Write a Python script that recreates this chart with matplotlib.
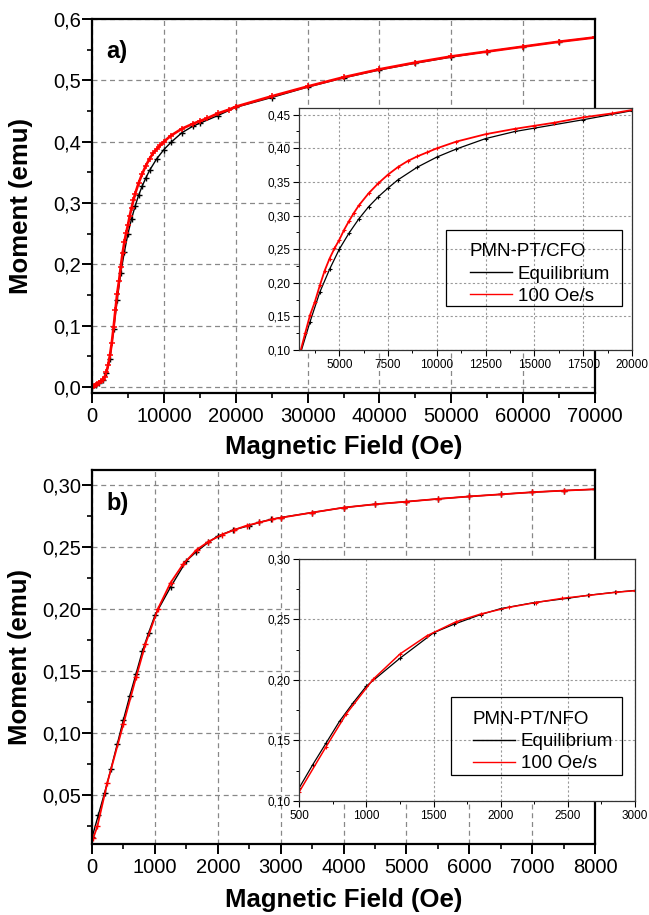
import numpy as np
import matplotlib.pyplot as plt
from matplotlib.patches import Rectangle
from matplotlib.ticker import MultipleLocator, FuncFormatter

plt.rcParams['font.family'] = ['Liberation Sans', 'DejaVu Sans']

# panel a) PMN-PT/CFO
cfo_field_rate = [0, 250, 500, 750, 1000, 1250, 1500, 1750, 2000, 2250, 2500, 2750,
                  3000, 3250, 3500, 3750, 4000, 4250, 4500, 4750, 5000, 5250, 5500,
                  5750, 6000, 6500, 7000, 7500, 8000, 8500, 9000, 9500, 10000, 11000,
                  12500, 14000, 15000, 16000, 17500, 19000, 20000, 25000, 30000, 35000,
                  40000, 45000, 50000, 55000, 60000, 65000, 70000]
cfo_moment_rate = [0.000, 0.001, 0.003, 0.005, 0.007, 0.009, 0.012, 0.016, 0.024, 0.036,
                   0.052, 0.072, 0.097, 0.125, 0.152, 0.172, 0.196, 0.218, 0.236, 0.251,
                   0.264, 0.279, 0.292, 0.304, 0.315, 0.333, 0.348, 0.361, 0.372, 0.381,
                   0.388, 0.394, 0.400, 0.410, 0.421, 0.429, 0.4335, 0.438, 0.446, 0.452,
                   0.457, 0.474, 0.490, 0.505, 0.518, 0.529, 0.539, 0.547, 0.555, 0.563,
                   0.570]
cfo_field_eq = [0, 500, 1000, 1500, 2000, 2500, 3000, 3500, 4000, 4500, 5000, 5500, 6000,
                6500, 7000, 7500, 8000, 9000, 10000, 11000, 12500, 14000, 15000, 17500,
                20000, 25000, 30000, 35000, 40000, 45000, 50000, 55000, 60000, 65000, 70000]
cfo_moment_eq = [0.000, 0.003, 0.007, 0.012, 0.022, 0.046, 0.094, 0.142, 0.186, 0.220,
                 0.250, 0.274, 0.295, 0.313, 0.328, 0.341, 0.353, 0.372, 0.387, 0.399,
                 0.4145, 0.425, 0.430, 0.4425, 0.456, 0.472, 0.489, 0.504, 0.517, 0.528,
                 0.538, 0.547, 0.555, 0.563, 0.570]

# panel b) PMN-PT/NFO
nfo_field_eq = [0, 100, 200, 300, 400, 500, 600, 700, 800, 900, 1000, 1250, 1500, 1650,
                1850, 2000, 2250, 2500, 2650, 2850, 3000, 3500, 4000, 4500, 5000, 5500,
                6000, 6500, 7000, 7500, 8000]
nfo_moment_eq = [0.016, 0.034, 0.052, 0.071, 0.091, 0.111, 0.130, 0.148, 0.166, 0.181,
                 0.195, 0.218, 0.239, 0.246, 0.254, 0.259, 0.264, 0.2675, 0.270, 0.2725,
                 0.274, 0.278, 0.282, 0.2847, 0.2868, 0.289, 0.291, 0.2927, 0.2944,
                 0.2957, 0.2968]
nfo_field_rate = [20, 85, 243, 500, 700, 850, 1050, 1250, 1450, 1665, 1850, 2060, 2260,
                  2460, 2660, 2860, 3000, 3500, 4000, 4500, 5000, 5500, 6000, 6500, 7000,
                  7500, 8000]
nfo_moment_rate = [0.0155, 0.025, 0.060, 0.1077, 0.145, 0.172, 0.2006, 0.2215, 0.2365,
                   0.248, 0.2545, 0.260, 0.264, 0.2675, 0.270, 0.2725, 0.2738, 0.278,
                   0.282, 0.2847, 0.2868, 0.289, 0.291, 0.2927, 0.2944, 0.2957, 0.2968]

series_labels = ['Equilibrium', '100 Oe/s']


def comma(dec):
    return FuncFormatter(lambda v, p: ('%.*f' % (dec, v)).replace('.', ','))


def style_main(ax):
    for s in ax.spines.values():
        s.set_linewidth(1.6)
    ax.tick_params(which='major', direction='out', length=7, width=1.4, labelsize=14.5,
                   top=False, right=False)
    ax.tick_params(axis='y', which='major', pad=1)
    ax.tick_params(axis='x', which='major', pad=3)
    ax.tick_params(which='minor', direction='out', length=3.8, width=1.2,
                   top=False, right=False)
    ax.grid(True, which='major', color='#888888', linestyle=(0, (4, 3)), linewidth=0.9)


def style_inset(ax):
    for s in ax.spines.values():
        s.set_linewidth(0.9)
        s.set_color('#333333')
    ax.tick_params(which='major', direction='out', length=4.5, width=0.8, labelsize=8.5,
                   top=False, right=False, pad=2)
    ax.tick_params(which='minor', direction='out', length=2.5, width=0.7,
                   top=False, right=False)
    ax.grid(True, which='major', color='#999999', linestyle=(0, (2, 2)), linewidth=0.8)
    ax.set_facecolor('white')


def boxed_legend(ax, title, frame, text_xy):
    leg = ax.legend(series_labels, title=title, loc='upper left', bbox_to_anchor=text_xy,
                    fontsize=13.5, title_fontsize=13.5, frameon=False, handlelength=2.25,
                    borderpad=0, borderaxespad=0, labelspacing=0.27, handletextpad=0.32,
                    alignment='left')
    for h in leg.get_lines():
        h.set_marker('')
        h.set_linewidth(1.0)
    x0, y0, x1, y1 = frame
    ax.add_patch(Rectangle((x0, y0), x1 - x0, y1 - y0, transform=ax.transAxes,
                           facecolor='none', edgecolor='black', lw=0.9, zorder=6))


fig = plt.figure(figsize=(6.49, 9.15), dpi=100)

# ---------------- panel a ----------------
axa = fig.add_axes([0.1418, 0.5705, 0.775, 0.4087])
axa.plot(cfo_field_eq, cfo_moment_eq, color='black', lw=1.0, marker='+', ms=4, mew=1.0)
axa.plot(cfo_field_rate, cfo_moment_rate, color='red', lw=1.9, marker='+', ms=5, mew=1.1)
axa.set_xlim(0, 70000)
axa.set_ylim(-0.01, 0.6)
axa.xaxis.set_major_locator(MultipleLocator(10000))
axa.xaxis.set_minor_locator(MultipleLocator(5000))
axa.yaxis.set_major_locator(MultipleLocator(0.1))
axa.yaxis.set_minor_locator(MultipleLocator(0.05))
axa.yaxis.set_major_formatter(comma(1))
style_main(axa)
axa.set_xlabel('Magnetic Field (Oe)', fontsize=18.5, fontweight='bold')
axa.set_ylabel('Moment (emu)', fontsize=18.5, fontweight='bold')
axa.xaxis.set_label_coords(0.5, -0.111)
axa.yaxis.set_label_coords(-0.117, 0.5)
axa.text(0.029, 0.913, 'a)', transform=axa.transAxes, fontsize=17, fontweight='bold',
         va='center', ha='left')

ina = fig.add_axes([0.4612, 0.6175, 0.5126, 0.2645])
ina.plot(cfo_field_eq, cfo_moment_eq, color='black', lw=0.9, marker='+', ms=3, mew=0.8)
ina.plot(cfo_field_rate, cfo_moment_rate, color='red', lw=1.3, marker='+', ms=3, mew=0.8)
ina.set_xlim(2950, 20000)
ina.set_ylim(0.10, 0.46)
ina.xaxis.set_major_locator(MultipleLocator(2500))
ina.xaxis.set_minor_locator(MultipleLocator(1250))
ina.yaxis.set_major_locator(MultipleLocator(0.05))
ina.yaxis.set_minor_locator(MultipleLocator(0.025))
ina.xaxis.set_major_formatter(FuncFormatter(lambda v, p: '' if v < 5000 else '%d' % v))
ina.yaxis.set_major_formatter(comma(2))
style_inset(ina)
boxed_legend(ina, 'PMN-PT/CFO', (0.44, 0.183, 0.969, 0.496), (0.512, 0.44))

# ---------------- panel b ----------------
axb = fig.add_axes([0.1418, 0.0776, 0.775, 0.4087])
axb.plot(nfo_field_eq, nfo_moment_eq, color='black', lw=1.0, marker='+', ms=4, mew=1.0)
axb.plot(nfo_field_rate, nfo_moment_rate, color='red', lw=1.3, marker='+', ms=5, mew=1.0)
axb.set_xlim(0, 8000)
axb.set_ylim(0.0107, 0.3123)
axb.xaxis.set_major_locator(MultipleLocator(1000))
axb.xaxis.set_minor_locator(MultipleLocator(500))
axb.yaxis.set_major_locator(MultipleLocator(0.05))
axb.yaxis.set_minor_locator(MultipleLocator(0.025))
axb.yaxis.set_major_formatter(comma(2))
style_main(axb)
axb.set_xlabel('Magnetic Field (Oe)', fontsize=18.5, fontweight='bold')
axb.set_ylabel('Moment (emu)', fontsize=18.5, fontweight='bold')
axb.xaxis.set_label_coords(0.5, -0.118)
axb.yaxis.set_label_coords(-0.119, 0.5)
axb.text(0.029, 0.911, 'b)', transform=axb.transAxes, fontsize=17, fontweight='bold',
         va='center', ha='left')

inb = fig.add_axes([0.4612, 0.1246, 0.5172, 0.2645])
inb.plot(nfo_field_eq, nfo_moment_eq, color='black', lw=0.9, marker='+', ms=3, mew=0.8)
inb.plot(nfo_field_rate, nfo_moment_rate, color='red', lw=1.1, marker='+', ms=3, mew=0.8)
inb.set_xlim(500, 3000)
inb.set_ylim(0.10, 0.30)
inb.xaxis.set_major_locator(MultipleLocator(500))
inb.xaxis.set_minor_locator(MultipleLocator(250))
inb.yaxis.set_major_locator(MultipleLocator(0.05))
inb.yaxis.set_minor_locator(MultipleLocator(0.025))
inb.yaxis.set_major_formatter(comma(2))
style_inset(inb)
boxed_legend(inb, 'PMN-PT/NFO', (0.451, 0.107, 0.960, 0.430), (0.516, 0.372))

fig.savefig('out.png', dpi=100)
